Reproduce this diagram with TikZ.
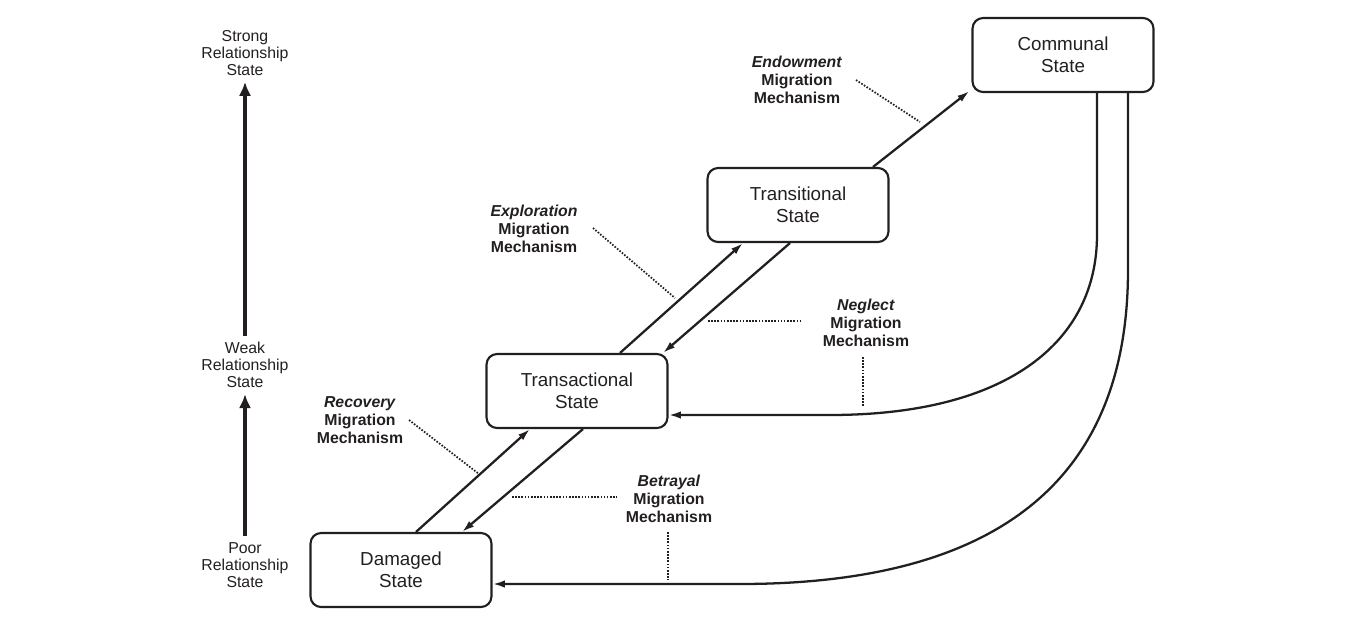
\documentclass[tikz,border=0pt]{standalone}
\usepackage{fontspec}
\setmainfont{Liberation Sans}
\usepackage{tikz}
\usetikzlibrary{arrows.meta, positioning, calc}
\definecolor{ink}{RGB}{35,31,32}
\tikzset{
  statebox/.style={draw=ink, line width=1.2pt, rounded corners=6pt, minimum width=3.62cm, minimum height=1.48cm, align=center, text=ink, font=\fontsize{10.7}{12.5}\selectfont},
  mechlabel/.style={align=center, text=ink, font=\fontsize{9}{10.2}\selectfont\bfseries},
  levellabel/.style={align=center, text=ink, font=\fontsize{9}{9.7}\selectfont},
  flow/.style={draw=ink, line width=1.3pt, -{Latex[length=7pt, width=4.2pt]}},
  leader/.style={draw=ink, line width=1pt, dash pattern=on 0.9pt off 0.9pt},
  levelarrow/.style={draw=ink, line width=2.4pt, -{Latex[length=8pt, width=7pt]}}
}

\begin{document}
\begin{tikzpicture}[x=0.02cm, y=-0.02cm]
  \useasboundingbox (0,0) rectangle (1347,622);

  % Relationship levels
  \node[levellabel] (strong) at (245,53) {Strong\\Relationship\\State};
  \node[levellabel] (weak) at (245,365) {Weak\\Relationship\\State};
  \node[levellabel] (poor) at (245,565) {Poor\\Relationship\\State};
  \draw[levelarrow] (poor) -- (weak);
  \draw[levelarrow] (weak) -- (strong);

  % States
  \node[statebox] (damaged) at (401,570) {Damaged\\State};
  \node[statebox] (transact) at (577,391) {Transactional\\State};
  \node[statebox] (transit) at (798,205) {Transitional\\State};
  \node[statebox] (communal) at (1063,55) {Communal\\State};

  % Migration upward
  \draw[flow] ($(damaged.north)+(15,0)$) -- ($(transact.south)+(-47,0)$);
  \draw[flow] ($(transact.north)+(43,0)$) -- ($(transit.south)+(-55,0)$);
  \draw[flow] ($(transit.north)+(75,0)$) -- ($(communal.south west)+(-2,-2)$);

  % Migration downward
  \draw[flow] ($(transact.south)+(6,0)$) -- ($(damaged.north)+(61,0)$);
  \draw[flow] ($(transit.south)+(-8,0)$) -- ($(transact.north)+(86,0)$);
  \draw[flow] ($(communal.south)+(34,0)$) -- (1097,235)
    .. controls (1097,340) and (1010,415) .. (830,415) -- ($(transact.east)+(0,24)$);
  \draw[flow] ($(communal.south)+(65,0)$) -- (1128,270)
    .. controls (1128,470) and (1010,584) .. (740,584) -- ($(damaged.east)+(0,14)$);

  % Mechanism labels
  \node[mechlabel] (endow) at (797,80) {\textit{Endowment}\\Migration\\Mechanism};
  \node[mechlabel] (explore) at (534,229) {\textit{Exploration}\\Migration\\Mechanism};
  \node[mechlabel] (neglect) at (866,323) {\textit{Neglect}\\Migration\\Mechanism};
  \node[mechlabel] (recover) at (360,420) {\textit{Recovery}\\Migration\\Mechanism};
  \node[mechlabel] (betray) at (669,499) {\textit{Betrayal}\\Migration\\Mechanism};

  % Leaders
  \draw[leader] (856,80) -- (920,122);
  \draw[leader] (593,228) -- (675,298);
  \draw[leader] (708,321) -- (800,321);
  \draw[leader] (863,357) -- (863,407);
  \draw[leader] (409,420) -- (479,474);
  \draw[leader] (512,497) -- (617,497);
  \draw[leader] (668,532) -- (668,580);
\end{tikzpicture}
\end{document}
